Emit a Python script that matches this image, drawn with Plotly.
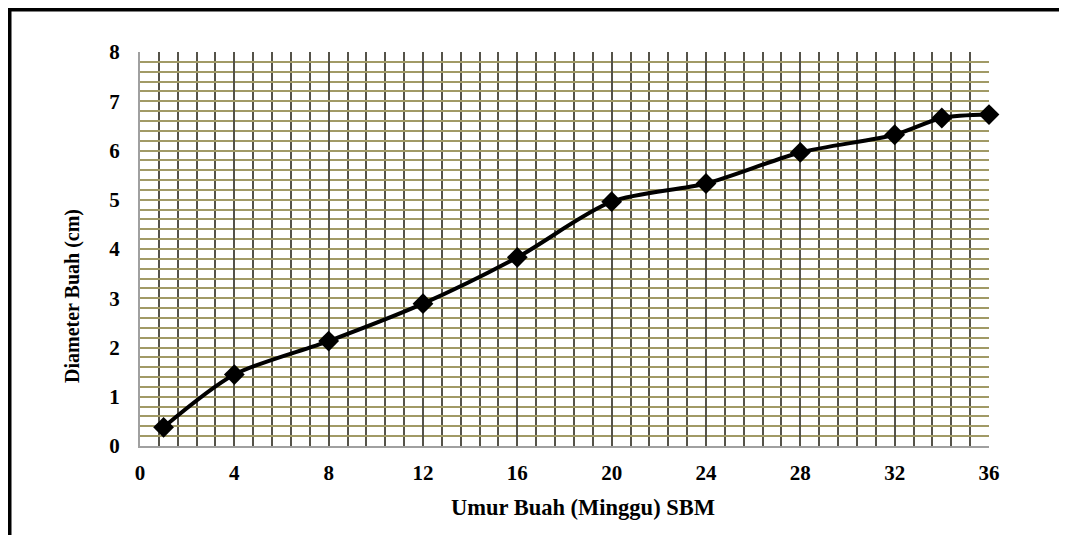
import plotly.graph_objects as go

# Data
weeks = [1, 4, 8, 12, 16, 20, 24, 28, 32, 34, 36]
diameter = [0.38, 1.45, 2.13, 2.89, 3.83, 4.96, 5.33, 5.96, 6.32, 6.66, 6.73]
x_ticks = [0, 4, 8, 12, 16, 20, 24, 28, 32, 36]
y_ticks = [0, 1, 2, 3, 4, 5, 6, 7, 8]
x_title = "Umur Buah (Minggu) SBM"
y_title = "Diameter Buah (cm)"

W, H = 1067, 535
OFF = 8  # browser body margin
# desired screen positions of plot area
SL, SR, ST, SB = 140, 989, 52, 446
L, R, T, B = SL - OFF, SR - OFF, ST - OFF, SB - OFF


def px(x):
    x -= OFF
    return (x - L) / (R - L)


def py(y):
    y -= OFF
    return (B - y) / (B - T)


tick_font = dict(family="Liberation Serif", size=21, color="black", weight="bold")
xt_font = dict(family="Liberation Serif", size=22.5, color="black", weight="bold")
yt_font = dict(family="Liberation Serif", size=20, color="black", weight="bold")

fig = go.Figure()
fig.add_trace(go.Scatter(
    x=weeks, y=diameter, mode="lines+markers",
    line=dict(color="black", width=4, shape="spline", smoothing=0.8),
    marker=dict(symbol="diamond", size=16, color="black"),
    showlegend=False, cliponaxis=False,
))

fig.update_layout(
    width=W, height=H,
    margin=dict(l=L, r=W - R, t=T, b=H - B, pad=0),
    paper_bgcolor="white", plot_bgcolor="white",
    font=tick_font,
    xaxis=dict(
        range=[0, 36], tickvals=x_ticks, ticktext=[str(v) for v in x_ticks],
        showgrid=True, gridcolor="#55534a", gridwidth=2,
        minor=dict(dtick=0.8, tick0=0, showgrid=True, gridcolor="#55534a", gridwidth=2),
        showline=True, linecolor="#a0a0a0", linewidth=2,
        zeroline=False, ticks="", ticklabelstandoff=7, tickfont=tick_font,
    ),
    yaxis=dict(
        range=[0, 8], tickvals=y_ticks, ticktext=[str(v) for v in y_ticks],
        showgrid=True, gridcolor="#a19a66", gridwidth=2,
        minor=dict(dtick=0.2, tick0=0, showgrid=True, gridcolor="#a19a66", gridwidth=2),
        showline=True, linecolor="#a0a0a0", linewidth=2,
        zeroline=False, ticks="", ticklabelstandoff=14, tickfont=tick_font,
    ),
    annotations=[
        dict(text=x_title, x=px(583), y=py(508), xref="paper", yref="paper",
             showarrow=False, font=xt_font, xanchor="center", yanchor="middle"),
        dict(text=y_title, x=px(72), y=py(296), xref="paper", yref="paper",
             showarrow=False, font=yt_font, textangle=-90, xanchor="center", yanchor="middle"),
    ],
    shapes=[
        dict(type="line", xref="paper", yref="paper", x0=px(7), x1=px(1075), y0=py(9.5), y1=py(9.5),
             line=dict(color="black", width=4)),
        dict(type="line", xref="paper", yref="paper", x0=px(9.5), x1=px(9.5), y0=py(7.5), y1=py(545),
             line=dict(color="black", width=4)),
    ],
)

fig.write_html("out.html")
